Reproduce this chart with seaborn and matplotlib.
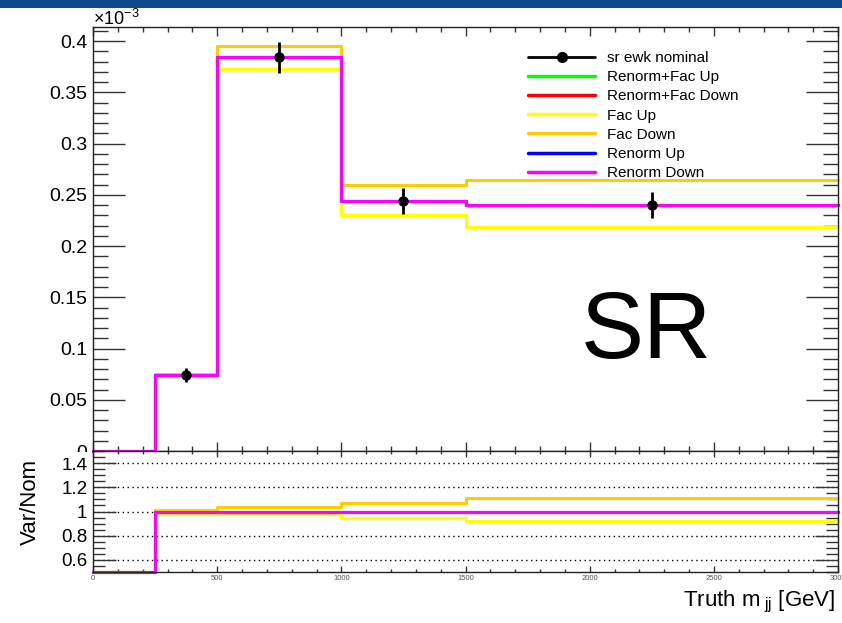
import numpy as np
import pandas as pd
import matplotlib
matplotlib.use("Agg")
import matplotlib.pyplot as plt
import seaborn as sns
from matplotlib.ticker import MultipleLocator, FixedLocator
from matplotlib.lines import Line2D
from matplotlib.patches import Rectangle

# ---------------- data (top panel values in units of 1e-3) ----------------
bin_edges = [0, 250, 500, 1000, 1500, 3000]
nominal = [0.0, 0.074, 0.384, 0.244, 0.240]
nominal_err = [0.0, 0.0068, 0.015, 0.0127, 0.0125]
renorm_fac_up = [0.0, 0.074, 0.384, 0.244, 0.240]
renorm_fac_down = [0.0, 0.074, 0.384, 0.244, 0.240]
fac_up = [0.0, 0.073, 0.373, 0.230, 0.2185]
fac_down = [0.0, 0.075, 0.395, 0.2595, 0.2645]
renorm_up = [0.0, 0.074, 0.384, 0.244, 0.240]
renorm_down = [0.0, 0.074, 0.384, 0.244, 0.240]

# ratio panel values (Var/Nom)
ratio_renorm_fac_up = [0.0, 1.0, 1.0, 1.0, 1.0]
ratio_renorm_fac_down = [0.0, 1.0, 1.0, 1.0, 1.0]
ratio_fac_up = [0.0, 0.99, 0.98, 0.95, 0.925]
ratio_fac_down = [0.0, 1.01, 1.037, 1.072, 1.114]
ratio_renorm_up = [0.0, 1.0, 1.0, 1.0, 1.0]
ratio_renorm_down = [0.0, 1.0, 1.0, 1.0, 1.0]

variation_names = ["Renorm+Fac Up", "Renorm+Fac Down", "Fac Up", "Fac Down",
                   "Renorm Up", "Renorm Down"]
variation_values = [renorm_fac_up, renorm_fac_down, fac_up, fac_down, renorm_up, renorm_down]
ratio_values = [ratio_renorm_fac_up, ratio_renorm_fac_down, ratio_fac_up, ratio_fac_down,
                ratio_renorm_up, ratio_renorm_down]
variation_colors = ["#00ff00", "#ff0000", "#ffff00", "#ffcc00", "#0000ff", "#ff00ff"]
nominal_label = "sr ewk nominal"
region_label = "SR"

x_ticks = [0, 500, 1000, 1500, 2000, 2500, 3000]
top_yticks = [0, 0.05, 0.1, 0.15, 0.2, 0.25, 0.3, 0.35, 0.4]
ratio_yticks = [0.6, 0.8, 1.0, 1.2, 1.4]

# ---------------- style ----------------
sns.set_theme(style="white")
plt.rcParams["font.family"] = ["Liberation Sans", "DejaVu Sans"]
plt.rcParams["mathtext.fontset"] = "custom"
plt.rcParams["mathtext.rm"] = "Liberation Sans"
plt.rcParams["mathtext.it"] = "Liberation Sans"
plt.rcParams["text.color"] = "black"
plt.rcParams["xtick.labelcolor"] = "black"
plt.rcParams["ytick.labelcolor"] = "black"

W, H = 842, 623
fig = plt.figure(figsize=(W / 100, H / 100), dpi=100)
fig.patch.set_facecolor("white")

# slide header bar
fig.patches.append(Rectangle((0, 1 - 8 / H), 1, 8 / H, transform=fig.transFigure,
                             facecolor="#0f4a8b", edgecolor="none", zorder=0))

L, R = 93 / W, 838 / W
top_t, mid, bot = 1 - 27 / H, 1 - 451 / H, 1 - 572 / H
ax = fig.add_axes([L, mid, R - L, top_t - mid])
axr = fig.add_axes([L, bot, R - L, mid - bot])

# lower pad background in the left margin (hides the lower half of the top "0" label)
fig.patches.append(Rectangle((0, 1 - 457.5 / H), 91 / W, 6 / H, transform=fig.transFigure,
                             facecolor="white", edgecolor="none", zorder=1))


def step_frame(values, name):
    xs = list(bin_edges)
    ys = list(values) + [values[-1]]
    return pd.DataFrame({"x": xs, "y": ys, "variation": name})


top_df = pd.concat([step_frame(v, n) for v, n in zip(variation_values, variation_names)],
                   ignore_index=True)
ylo_ratio, yhi_ratio = 0.5, 1.5
ratio_df = pd.concat([step_frame(list(np.clip(v, ylo_ratio, yhi_ratio)), n)
                      for v, n in zip(ratio_values, variation_names)], ignore_index=True)
palette = dict(zip(variation_names, variation_colors))

sns.lineplot(data=top_df, x="x", y="y", hue="variation", hue_order=variation_names,
             palette=palette, drawstyle="steps-post", estimator=None, sort=False,
             linewidth=2.2, ax=ax, legend=False, clip_on=False)
sns.lineplot(data=ratio_df, x="x", y="y", hue="variation", hue_order=variation_names,
             palette=palette, drawstyle="steps-post", estimator=None, sort=False,
             linewidth=2.2, ax=axr, legend=False, clip_on=False)

# nominal points with error bars
centers = [(a + b) / 2 for a, b in zip(bin_edges[:-1], bin_edges[1:])]
pts = pd.DataFrame({"x": centers, "y": nominal, "err": nominal_err})
pts = pts[pts["y"] > 0]
ax.errorbar(pts["x"], pts["y"], yerr=pts["err"], fmt="o", color="black", ms=6.5,
            elinewidth=2, capsize=0, zorder=5)

# ---------------- axes styling ----------------
for a in (ax, axr):
    a.set_xlim(0, 3000)
    a.set_xlabel("")
    a.set_ylabel("")
    for s in a.spines.values():
        s.set_color("#222222")
        s.set_linewidth(1.0)
        s.set_visible(True)
    a.xaxis.set_major_locator(FixedLocator(x_ticks))
    a.xaxis.set_minor_locator(MultipleLocator(100))

ax.set_ylim(0, 0.4137)
ax.yaxis.set_major_locator(FixedLocator(top_yticks))
ax.yaxis.set_minor_locator(MultipleLocator(0.01))
ax.set_yticklabels([f"{t:g}" for t in top_yticks])
ax.tick_params(axis="y", which="major", direction="in", length=23, width=1,
               color="#333333", left=True, right=True, labelsize=14, pad=4)
ax.tick_params(axis="y", which="minor", direction="in", length=11, width=1,
               color="#333333", left=True, right=True)
ax.tick_params(axis="x", which="major", direction="in", length=6.5, width=1,
               color="#333333", top=True, bottom=True, labelbottom=False)
ax.tick_params(axis="x", which="minor", direction="in", length=3.6, width=1,
               color="#333333", top=True, bottom=True)

axr.set_ylim(ylo_ratio, yhi_ratio)
axr.yaxis.set_major_locator(FixedLocator(ratio_yticks))
axr.yaxis.set_minor_locator(MultipleLocator(0.05))
axr.set_yticklabels([f"{t:g}" for t in ratio_yticks])
axr.tick_params(axis="y", which="major", direction="in", length=16.5, width=1,
                color="#333333", left=True, right=True, labelsize=13.5, pad=4)
axr.tick_params(axis="y", which="minor", direction="in", length=8.6, width=1,
                color="#333333", left=True, right=True)
axr.tick_params(axis="x", which="major", direction="in", length=4.5, width=1,
                color="#333333", top=True, bottom=True, labelsize=5.5, pad=2,
                labelcolor="#555555")
axr.tick_params(axis="x", which="minor", direction="in", length=2.5, width=1,
                color="#333333", top=True, bottom=True)
axr.set_xticklabels([str(t) for t in x_ticks])
for t in ratio_yticks:
    axr.axhline(t, color="black", linestyle=(0, (1, 2.5)), linewidth=1, zorder=0)

# labels
fig.text(93 / W, 1 - 19 / H, r"$\times$10$^{-3}$", fontsize=13, ha="left", va="center")
fig.text(30 / W, 1 - 502 / H, "Var/Nom", rotation=90, fontsize=16, ha="center", va="center")
fig.text(835 / W, 1 - 602 / H, r"Truth m$_{\ \rm jj}$ [GeV]", fontsize=16,
         ha="right", va="center")
ax.text(2227, 0.115, region_label, fontsize=68, ha="center", va="center", color="black")

# legend
handles = [Line2D([], [], color="black", marker="o", ms=7, linewidth=2)]
handles += [Line2D([], [], color=c, linewidth=2.5) for c in variation_colors]
labels = [nominal_label] + variation_names
leg = ax.legend(handles, labels, loc="upper left", bbox_to_anchor=(528 / W, 1 - 51 / H),
                bbox_transform=fig.transFigure, frameon=False, fontsize=11,
                handlelength=4.4, handletextpad=0.8, labelspacing=0.34, borderpad=0,
                borderaxespad=0)

fig.savefig("out.png", dpi=100)
